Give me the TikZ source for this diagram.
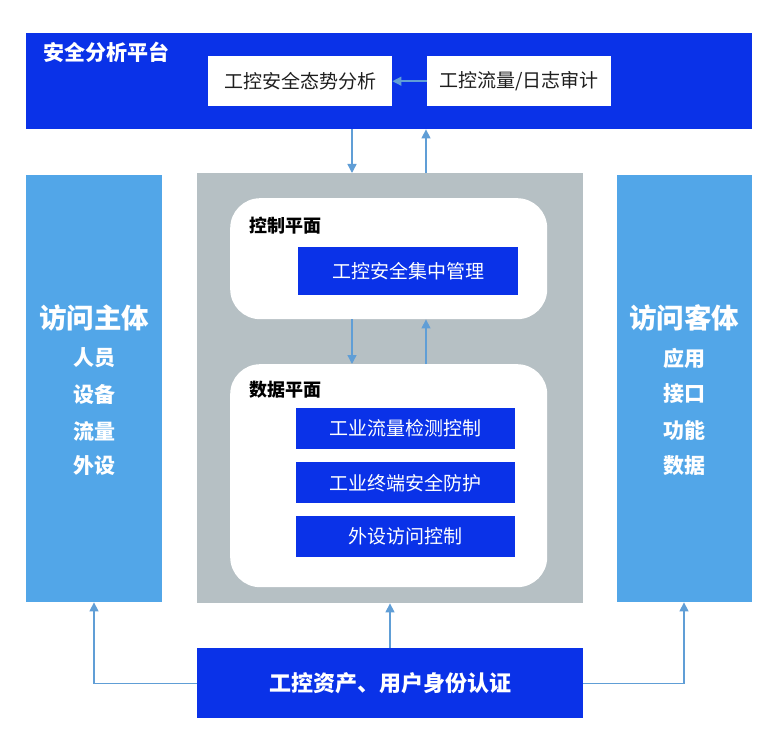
\documentclass[tikz,border=0pt]{standalone}
\usepackage{fontspec}
\setmainfont{Noto Sans CJK SC}
\usetikzlibrary{arrows.meta}
\definecolor{deepblue}{RGB}{10,50,232}
\definecolor{lightblue}{RGB}{82,166,232}
\definecolor{panelgray}{RGB}{182,192,196}
\definecolor{arrowblue}{RGB}{96,158,214}
\definecolor{txt}{RGB}{30,30,30}
\tikzset{
  box/.style={draw=none, anchor=north west, inner sep=0pt},
  bluebox/.style={box, fill=deepblue, text=white, font=\fontsize{19}{21}\selectfont},
  whitebox/.style={box, fill=white, text=txt, font=\fontsize{19}{21}\selectfont},
  plane/.style={box, fill=white, rounded corners=30pt},
  conn/.style={draw=arrowblue, line width=1.4pt, -{Triangle[length=9pt,width=9pt]}},
  hdr/.style={font=\bfseries\fontsize{18}{20}\selectfont, text=black, anchor=west, inner sep=0pt},
  sidetitle/.style={text=white, font=\bfseries\fontsize{27.5}{28}\selectfont, inner sep=0pt},
  sideitem/.style={text=white, font=\bfseries\fontsize{21}{22}\selectfont, inner sep=0pt},
}
\begin{document}
\begin{tikzpicture}[x=1pt,y=-1pt]
\useasboundingbox (0,0) rectangle (777,754);
\fill[white] (0,0) rectangle (777,754);
% top platform
\node[box, fill=deepblue, minimum width=726pt, minimum height=96pt] (top) at (26,33) {};
\node[anchor=west, inner sep=0pt, text=white, font=\bfseries\fontsize{21}{22}\selectfont] (toptitle) at (43,52) {安全分析平台};
\node[whitebox, minimum width=184pt, minimum height=50pt] (sa) at (208,56) {工控安全态势分析};
\node[whitebox, minimum width=184pt, minimum height=50pt] (au) at (427,56) {工控流量/日志审计};
% side panels
\node[box, fill=lightblue, minimum width=136pt, minimum height=427pt] (left) at (26,175) {};
\node[box, fill=lightblue, minimum width=135pt, minimum height=427pt] (right) at (617,175) {};
\node[sidetitle] (lt) at (94,318) {访问主体};
\node[sideitem] (l1) at (94,358) {人员};
\node[sideitem] (l2) at (94,394) {设备};
\node[sideitem] (l3) at (94,431) {流量};
\node[sideitem] (l4) at (94,466) {外设};
\node[sidetitle] (rt) at (684,318) {访问客体};
\node[sideitem] (r1) at (684,358) {应用};
\node[sideitem] (r2) at (684,394) {接口};
\node[sideitem] (r3) at (684,431) {功能};
\node[sideitem] (r4) at (684,466) {数据};
% middle panel
\node[box, fill=panelgray, minimum width=386pt, minimum height=430pt] (mid) at (197,173) {};
\node[plane, minimum width=317pt, minimum height=121pt] (cp) at (230,198) {};
\node[hdr] (cph) at (249,226) {控制平面};
\node[bluebox, minimum width=220pt, minimum height=48pt] (cm) at (298,247) {工控安全集中管理};
\node[plane, minimum width=317pt, minimum height=223pt] (dp) at (230,364) {};
\node[hdr] (dph) at (249,390) {数据平面};
\node[bluebox, minimum width=219pt, minimum height=41pt] (d1) at (296,408) {工业流量检测控制};
\node[bluebox, minimum width=219pt, minimum height=41pt] (d2) at (296,462) {工业终端安全防护};
\node[bluebox, minimum width=219pt, minimum height=41pt] (d3) at (296,516) {外设访问控制};
% bottom
\node[box, fill=deepblue, text=white, minimum width=386pt, minimum height=70pt, font=\bfseries\fontsize{22}{24}\selectfont] (auth) at (197,648) {工控资产、用户身份认证};
% connectors
\draw[conn] (au.west) -- (sa.east);
\draw[conn] (top.south -| 352,0) -- (mid.north -| 352,0);
\draw[conn] (mid.north -| 426,0) -- (top.south -| 426,0);
\draw[conn] (cp.south -| 352,0) -- (dp.north -| 352,0);
\draw[conn] (dp.north -| 426,0) -- (cp.south -| 426,0);
\draw[conn] (auth.north -| 390,0) -- (mid.south -| 390,0);
\draw[conn] (auth.west) -| (left.south -| 94,0);
\draw[conn] (auth.east) -| (right.south -| 684,0);
\end{tikzpicture}
\end{document}
